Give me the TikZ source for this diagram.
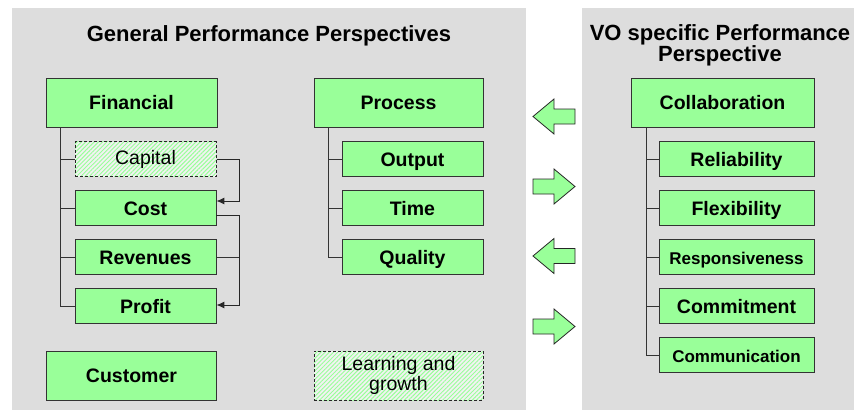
\documentclass[tikz,border=0pt]{standalone}
\usepackage{fontspec}
\setmainfont{Liberation Sans}
\usetikzlibrary{arrows.meta,patterns.meta}
\definecolor{panelgray}{HTML}{DDDDDD}
\definecolor{kpigreen}{HTML}{99FF99}
\tikzset{
	kpibox/.style={draw=black!80, fill=kpigreen, line width=0.9pt, inner sep=0pt,
		font=\fontsize{19.5}{20}\selectfont\bfseries, text height=14pt, text depth=0pt},
	optbox/.style={draw=black!85, dash pattern=on 3pt off 2pt, line width=0.9pt, inner sep=0pt,
		preaction={fill=white!95!black}, pattern={Lines[angle=45,distance=3pt,line width=1pt]},
		pattern color=kpigreen, font=\fontsize{19.5}{20}\selectfont},
	headbox/.style={minimum height=49pt},
	subbox/.style={minimum height=35pt},
	smalltext/.style={font=\fontsize{17}{18}\selectfont\bfseries},
	titletext/.style={font=\fontsize{22}{21}\selectfont\bfseries, align=center},
	branch/.style={draw=black!80, line width=1pt},
	link/.style={draw=black!85, line width=1pt, -{Latex[length=8pt,width=7pt]}},
	swap/.style={draw=black!85, fill=kpigreen, line width=0.8pt, line join=miter}
}
\def\blockarrow(#1,#2)#3{\draw[swap] (#1+21*#3,#2) -- (#1,#2-17.5) -- (#1,#2-7.5) -- (#1-21*#3,#2-7.5)
	-- (#1-21*#3,#2+7.5) -- (#1,#2+7.5) -- (#1,#2+17.5) -- cycle;}

\begin{document}
\begin{tikzpicture}[x=1pt,y=-1pt]
		%%%%% START %%%%%
		\useasboundingbox (0,0) rectangle (854,410);
		
		\fill[panelgray] (12, 8) rectangle (526, 410);
		\fill[panelgray] (582, 8) rectangle (854, 410);
		
		\node[titletext, anchor=base] (gentitle) at (269, 41.7) {General Performance Perspectives};
		\node[titletext] (votitle) at (720, 45) {VO specific Performance\\Perspective};
		
		% financial
		\node[kpibox, headbox, minimum width=171pt] (fin) at (131.5, 102.5) {Financial};
		\node[optbox, subbox, minimum width=141pt] (cap) at (145.5, 159) {Capital};
		\node[kpibox, subbox, minimum width=141pt] (cost) at (145.5, 208) {Cost};
		\node[kpibox, subbox, minimum width=141pt] (rev) at (145.5, 257) {Revenues};
		\node[kpibox, subbox, minimum width=141pt] (prof) at (145.5, 306) {Profit};
		
		\foreach \n in {cap,cost,rev,prof}
			\draw[branch] ([xshift=15pt]fin.south west) |- (\n.west);
		
		\draw[link] (cap.east) -- ++(23,0) |- ([yshift=7pt]cost.east);
		\draw[link] ([yshift=-7pt]cost.east) -- ++(23,0) |- ([yshift=1pt]prof.east);
		\draw[branch] (rev.east) -- ++(23,0);
		
		% process
		\node[kpibox, headbox, minimum width=169pt] (proc) at (398.5, 102.5) {Process};
		\node[kpibox, subbox, minimum width=141pt] (outp) at (412.5, 159) {Output};
		\node[kpibox, subbox, minimum width=141pt] (time) at (412.5, 208) {Time};
		\node[kpibox, subbox, minimum width=141pt] (qual) at (412.5, 257) {Quality};
		
		\foreach \n in {outp,time,qual}
			\draw[branch] ([xshift=15pt]proc.south west) |- (\n.west);
		
		\node[kpibox, headbox, minimum width=170pt] (cust) at (131.5, 375.5) {Customer};
		\node[optbox, headbox, minimum width=169pt, align=center] (learn) at (398.5, 375.5) {Learning and\\growth};
		
		% vo specific
		\node[kpibox, headbox, minimum width=183pt] (collab) at (722.5, 102.5) {Collaboration};
		\node[kpibox, subbox, minimum width=155pt] (rel) at (736.5, 159) {Reliability};
		\node[kpibox, subbox, minimum width=155pt] (flex) at (736.5, 208) {Flexibility};
		\node[kpibox, subbox, smalltext, minimum width=155pt] (resp) at (736.5, 257) {Responsiveness};
		\node[kpibox, subbox, minimum width=155pt] (commit) at (736.5, 306) {Commitment};
		\node[kpibox, subbox, smalltext, minimum width=155pt] (comm) at (736.5, 355) {Communication};
		
		\foreach \n in {rel,flex,resp,commit,comm}
			\draw[branch] ([xshift=16pt]collab.south west) |- (\n.west);
		
		% exchange arrows
		\blockarrow(554,116.5){-1}
		\blockarrow(554,186.5){1}
		\blockarrow(554,256){-1}
		\blockarrow(554,326.5){1}
		
		%%%%% END %%%%%
\end{tikzpicture}
\end{document}
